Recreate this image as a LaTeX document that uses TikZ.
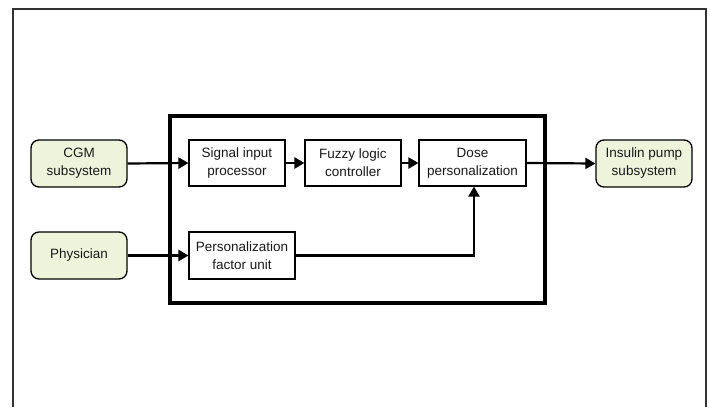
\documentclass[tikz,border=0pt]{standalone}
\usepackage{fontspec}
\setmainfont{Liberation Sans}
\usetikzlibrary{arrows.meta}
\definecolor{extfill}{HTML}{EEF3DB}
\begin{document}
\begin{tikzpicture}[x=1pt,y=-1pt,
  every node/.style={font=\fontsize{13.5}{18}\selectfont, align=center, inner sep=0pt, text=black!90},
  ext/.style={draw, line width=1.3pt, rounded corners=8pt, fill=extfill},
  blk/.style={draw, line width=1.1pt, fill=white},
  conn/.style={line width=2.2pt, -{Triangle[length=10pt,width=11pt]}}]
\useasboundingbox (0,0) rectangle (709,407);
% outer frame
\draw[line width=1.4pt, black!80] (13,407) -- (13,9) -- (706,9) -- (706,407);
% controller enclosure
\draw[line width=3.2pt] (170,116) rectangle (545,303);
% external entities
\node[ext, minimum width=96pt, minimum height=47pt] (cgm) at (79,163.5) {CGM\\subsystem};
\node[ext, minimum width=96pt, minimum height=47pt] (phys) at (79,255.5) {Physician};
\node[ext, minimum width=96pt, minimum height=47pt] (pump) at (644,163.5) {Insulin pump\\subsystem};
% internal blocks
\node[blk, minimum width=96pt, minimum height=46pt] (sig) at (237,163) {Signal input\\processor};
\node[blk, minimum width=96pt, minimum height=46pt] (fuzzy) at (353,163) {Fuzzy logic\\controller};
\node[blk, minimum width=107pt, minimum height=46pt] (dose) at (472.5,163) {Dose\\personalization};
\node[blk, minimum width=106pt, minimum height=47pt] (pfu) at (242,255.5) {Personalization\\factor unit};
% connectors
\draw[conn] (cgm.east) -- (sig.west);
\draw[conn] (sig.east) -- (fuzzy.west);
\draw[conn] (fuzzy.east) -- (dose.west);
\draw[conn] (dose.east) -- (pump.west);
\draw[conn] (phys.east) -- (pfu.west);
\coordinate (bend) at (474,255.5);
\draw[conn] (pfu.east) -- (bend) -- (dose.south -| bend);
\end{tikzpicture}
\end{document}
